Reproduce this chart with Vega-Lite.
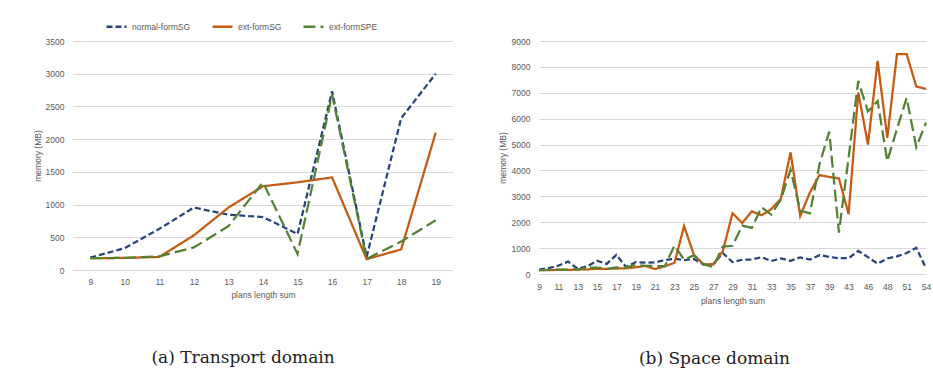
{
  "$schema": "https://vega.github.io/schema/vega-lite/v6.json",
  "background": "white",
  "padding": {"left": 33, "top": 15, "right": 5, "bottom": 5},
  "spacing": 45,
  "datasets": {
    "transport": [
      {"x": 9, "series": "normal-formSG", "v": 190},
      {"x": 10, "series": "normal-formSG", "v": 335},
      {"x": 11, "series": "normal-formSG", "v": 630},
      {"x": 12, "series": "normal-formSG", "v": 955},
      {"x": 13, "series": "normal-formSG", "v": 845},
      {"x": 14, "series": "normal-formSG", "v": 810},
      {"x": 15, "series": "normal-formSG", "v": 550},
      {"x": 16, "series": "normal-formSG", "v": 2730},
      {"x": 17, "series": "normal-formSG", "v": 200},
      {"x": 18, "series": "normal-formSG", "v": 2320},
      {"x": 19, "series": "normal-formSG", "v": 3000},
      {"x": 9, "series": "ext-formSG", "v": 180},
      {"x": 10, "series": "ext-formSG", "v": 185},
      {"x": 11, "series": "ext-formSG", "v": 200},
      {"x": 12, "series": "ext-formSG", "v": 530},
      {"x": 13, "series": "ext-formSG", "v": 955},
      {"x": 14, "series": "ext-formSG", "v": 1280},
      {"x": 15, "series": "ext-formSG", "v": 1340},
      {"x": 16, "series": "ext-formSG", "v": 1415},
      {"x": 17, "series": "ext-formSG", "v": 165},
      {"x": 18, "series": "ext-formSG", "v": 315},
      {"x": 19, "series": "ext-formSG", "v": 2100},
      {"x": 9, "series": "ext-formSPE", "v": 180},
      {"x": 10, "series": "ext-formSPE", "v": 185},
      {"x": 11, "series": "ext-formSPE", "v": 210},
      {"x": 12, "series": "ext-formSPE", "v": 345},
      {"x": 13, "series": "ext-formSPE", "v": 670},
      {"x": 14, "series": "ext-formSPE", "v": 1340},
      {"x": 15, "series": "ext-formSPE", "v": 245},
      {"x": 16, "series": "ext-formSPE", "v": 2680},
      {"x": 17, "series": "ext-formSPE", "v": 170},
      {"x": 18, "series": "ext-formSPE", "v": 435},
      {"x": 19, "series": "ext-formSPE", "v": 760}
    ],
    "space": [
      {"x": 9, "series": "normal-formSG", "v": 170},
      {"x": 10, "series": "normal-formSG", "v": 230},
      {"x": 11, "series": "normal-formSG", "v": 320},
      {"x": 12, "series": "normal-formSG", "v": 480},
      {"x": 13, "series": "normal-formSG", "v": 200},
      {"x": 14, "series": "normal-formSG", "v": 300},
      {"x": 15, "series": "normal-formSG", "v": 510},
      {"x": 16, "series": "normal-formSG", "v": 390},
      {"x": 17, "series": "normal-formSG", "v": 740},
      {"x": 18, "series": "normal-formSG", "v": 270},
      {"x": 19, "series": "normal-formSG", "v": 460},
      {"x": 20, "series": "normal-formSG", "v": 440},
      {"x": 21, "series": "normal-formSG", "v": 450},
      {"x": 22, "series": "normal-formSG", "v": 540},
      {"x": 23, "series": "normal-formSG", "v": 590},
      {"x": 24, "series": "normal-formSG", "v": 540},
      {"x": 25, "series": "normal-formSG", "v": 580},
      {"x": 26, "series": "normal-formSG", "v": 370},
      {"x": 27, "series": "normal-formSG", "v": 370},
      {"x": 28, "series": "normal-formSG", "v": 810},
      {"x": 29, "series": "normal-formSG", "v": 460},
      {"x": 30, "series": "normal-formSG", "v": 550},
      {"x": 31, "series": "normal-formSG", "v": 560},
      {"x": 32, "series": "normal-formSG", "v": 650},
      {"x": 33, "series": "normal-formSG", "v": 500},
      {"x": 34, "series": "normal-formSG", "v": 600},
      {"x": 35, "series": "normal-formSG", "v": 510},
      {"x": 36, "series": "normal-formSG", "v": 640},
      {"x": 37, "series": "normal-formSG", "v": 560},
      {"x": 38, "series": "normal-formSG", "v": 730},
      {"x": 39, "series": "normal-formSG", "v": 660},
      {"x": 41, "series": "normal-formSG", "v": 610},
      {"x": 43, "series": "normal-formSG", "v": 610},
      {"x": 44, "series": "normal-formSG", "v": 890},
      {"x": 46, "series": "normal-formSG", "v": 650},
      {"x": 47, "series": "normal-formSG", "v": 400},
      {"x": 48, "series": "normal-formSG", "v": 600},
      {"x": 50, "series": "normal-formSG", "v": 680},
      {"x": 51, "series": "normal-formSG", "v": 810},
      {"x": 52, "series": "normal-formSG", "v": 1010},
      {"x": 54, "series": "normal-formSG", "v": 220},
      {"x": 9, "series": "ext-formSG", "v": 150},
      {"x": 10, "series": "ext-formSG", "v": 150},
      {"x": 11, "series": "ext-formSG", "v": 160},
      {"x": 12, "series": "ext-formSG", "v": 160},
      {"x": 13, "series": "ext-formSG", "v": 170},
      {"x": 14, "series": "ext-formSG", "v": 180},
      {"x": 15, "series": "ext-formSG", "v": 200},
      {"x": 16, "series": "ext-formSG", "v": 200},
      {"x": 17, "series": "ext-formSG", "v": 210},
      {"x": 18, "series": "ext-formSG", "v": 220},
      {"x": 19, "series": "ext-formSG", "v": 260},
      {"x": 20, "series": "ext-formSG", "v": 310},
      {"x": 21, "series": "ext-formSG", "v": 190},
      {"x": 22, "series": "ext-formSG", "v": 300},
      {"x": 23, "series": "ext-formSG", "v": 430},
      {"x": 24, "series": "ext-formSG", "v": 1850},
      {"x": 25, "series": "ext-formSG", "v": 750},
      {"x": 26, "series": "ext-formSG", "v": 370},
      {"x": 27, "series": "ext-formSG", "v": 370},
      {"x": 28, "series": "ext-formSG", "v": 880},
      {"x": 29, "series": "ext-formSG", "v": 2350},
      {"x": 30, "series": "ext-formSG", "v": 1970},
      {"x": 31, "series": "ext-formSG", "v": 2420},
      {"x": 32, "series": "ext-formSG", "v": 2270},
      {"x": 33, "series": "ext-formSG", "v": 2500},
      {"x": 34, "series": "ext-formSG", "v": 2910},
      {"x": 35, "series": "ext-formSG", "v": 4700},
      {"x": 36, "series": "ext-formSG", "v": 2240},
      {"x": 37, "series": "ext-formSG", "v": 3150},
      {"x": 38, "series": "ext-formSG", "v": 3820},
      {"x": 39, "series": "ext-formSG", "v": 3750},
      {"x": 41, "series": "ext-formSG", "v": 3690},
      {"x": 43, "series": "ext-formSG", "v": 2310},
      {"x": 44, "series": "ext-formSG", "v": 7010},
      {"x": 46, "series": "ext-formSG", "v": 5000},
      {"x": 47, "series": "ext-formSG", "v": 8230},
      {"x": 48, "series": "ext-formSG", "v": 5260},
      {"x": 50, "series": "ext-formSG", "v": 8490},
      {"x": 51, "series": "ext-formSG", "v": 8490},
      {"x": 52, "series": "ext-formSG", "v": 7240},
      {"x": 54, "series": "ext-formSG", "v": 7150},
      {"x": 9, "series": "ext-formSPE", "v": 150},
      {"x": 10, "series": "ext-formSPE", "v": 160},
      {"x": 11, "series": "ext-formSPE", "v": 170},
      {"x": 12, "series": "ext-formSPE", "v": 170},
      {"x": 13, "series": "ext-formSPE", "v": 180},
      {"x": 14, "series": "ext-formSPE", "v": 240},
      {"x": 15, "series": "ext-formSPE", "v": 250},
      {"x": 16, "series": "ext-formSPE", "v": 200},
      {"x": 17, "series": "ext-formSPE", "v": 260},
      {"x": 18, "series": "ext-formSPE", "v": 260},
      {"x": 19, "series": "ext-formSPE", "v": 350},
      {"x": 20, "series": "ext-formSPE", "v": 310},
      {"x": 21, "series": "ext-formSPE", "v": 310},
      {"x": 22, "series": "ext-formSPE", "v": 300},
      {"x": 23, "series": "ext-formSPE", "v": 1100},
      {"x": 24, "series": "ext-formSPE", "v": 550},
      {"x": 25, "series": "ext-formSPE", "v": 720},
      {"x": 26, "series": "ext-formSPE", "v": 380},
      {"x": 27, "series": "ext-formSPE", "v": 270},
      {"x": 28, "series": "ext-formSPE", "v": 1060},
      {"x": 29, "series": "ext-formSPE", "v": 1090},
      {"x": 30, "series": "ext-formSPE", "v": 1870},
      {"x": 31, "series": "ext-formSPE", "v": 1780},
      {"x": 32, "series": "ext-formSPE", "v": 2580},
      {"x": 33, "series": "ext-formSPE", "v": 2290},
      {"x": 34, "series": "ext-formSPE", "v": 2880},
      {"x": 35, "series": "ext-formSPE", "v": 4030},
      {"x": 36, "series": "ext-formSPE", "v": 2450},
      {"x": 37, "series": "ext-formSPE", "v": 2340},
      {"x": 38, "series": "ext-formSPE", "v": 4250},
      {"x": 39, "series": "ext-formSPE", "v": 5500},
      {"x": 41, "series": "ext-formSPE", "v": 1600},
      {"x": 43, "series": "ext-formSPE", "v": 4500},
      {"x": 44, "series": "ext-formSPE", "v": 7460},
      {"x": 46, "series": "ext-formSPE", "v": 6280},
      {"x": 47, "series": "ext-formSPE", "v": 6680},
      {"x": 48, "series": "ext-formSPE", "v": 4360},
      {"x": 50, "series": "ext-formSPE", "v": 5600},
      {"x": 51, "series": "ext-formSPE", "v": 6800},
      {"x": 52, "series": "ext-formSPE", "v": 4900},
      {"x": 54, "series": "ext-formSPE", "v": 5850}
    ]
  },
  "hconcat": [
    {
      "data": {"name": "transport"},
      "width": 380,
      "height": 229,
      "title": {"text": "(a) Transport domain", "orient": "bottom", "anchor": "middle", "frame": "bounds", "offset": 51, "font": "DejaVu Serif", "fontSize": 17, "fontWeight": "normal", "color": "#222222"},
      "mark": {"type": "line", "strokeWidth": 2.25},
      "encoding": {
        "x": {"field": "x", "type": "ordinal", "scale": {"type": "point", "padding": 0.5},
          "axis": {"title": "plans length sum", "labelAngle": 0, "labelPadding": 7, "titlePadding": 5}},
        "y": {"field": "v", "type": "quantitative", "scale": {"domain": [0, 3500]},
          "axis": {"title": "memory (MB)", "format": "d", "values": [0, 500, 1000, 1500, 2000, 2500, 3000, 3500], "grid": true, "labelPadding": 9, "titlePadding": 3}},
        "color": {"field": "series", "type": "nominal",
          "scale": {"domain": ["normal-formSG", "ext-formSG", "ext-formSPE"], "range": ["#264478", "#C55A11", "#548235"]},
          "legend": {"orient": "none", "direction": "horizontal", "legendX": 32, "legendY": -26, "title": null}},
        "strokeDash": {"field": "series", "type": "nominal",
          "scale": {"domain": ["normal-formSG", "ext-formSG", "ext-formSPE"], "range": [[6, 3], [1, 0], [12, 5]]},
          "legend": {"orient": "none", "direction": "horizontal", "legendX": 32, "legendY": -26, "title": null}}
      }
    },
    {
      "data": {"name": "space"},
      "width": 387,
      "height": 233,
      "title": {"text": "(b) Space domain", "orient": "bottom", "anchor": "middle", "frame": "bounds", "offset": 46, "font": "DejaVu Serif", "fontSize": 17, "fontWeight": "normal", "color": "#222222"},
      "mark": {"type": "line", "strokeWidth": 2.25},
      "encoding": {
        "x": {"field": "x", "type": "ordinal", "scale": {"type": "point", "padding": 0},
          "axis": {"title": "plans length sum", "labelAngle": 0, "labelPadding": 8, "titlePadding": 6,
            "values": [9, 11, 13, 15, 17, 19, 21, 23, 25, 27, 29, 31, 33, 35, 37, 39, 43, 46, 48, 51, 54]}},
        "y": {"field": "v", "type": "quantitative", "scale": {"domain": [0, 9000]},
          "axis": {"title": "memory (MB)", "format": "d", "values": [0, 1000, 2000, 3000, 4000, 5000, 6000, 7000, 8000, 9000], "grid": true, "labelPadding": 9, "titlePadding": 4}},
        "color": {"field": "series", "type": "nominal",
          "scale": {"domain": ["normal-formSG", "ext-formSG", "ext-formSPE"], "range": ["#264478", "#C55A11", "#548235"]},
          "legend": {"orient": "none", "direction": "horizontal", "legendX": 42, "legendY": -26, "title": null}},
        "strokeDash": {"field": "series", "type": "nominal",
          "scale": {"domain": ["normal-formSG", "ext-formSG", "ext-formSPE"], "range": [[6, 3], [1, 0], [12, 5]]},
          "legend": {"orient": "none", "direction": "horizontal", "legendX": 42, "legendY": -26, "title": null}}
      }
    }
  ],
  "resolve": {"scale": {"x": "independent", "y": "independent"}},
  "config": {
    "font": "Liberation Sans",
    "view": {"stroke": null},
    "axis": {
      "domain": false,
      "ticks": false,
      "tickSize": 0,
      "labelFont": "Liberation Sans",
      "labelFontSize": 8.5,
      "labelColor": "#595959",
      "titleFont": "Liberation Sans",
      "titleFontSize": 8.5,
      "titleFontWeight": "normal",
      "titleColor": "#595959",
      "gridColor": "#d9d9d9",
      "gridWidth": 1
    },
    "axisX": {"grid": false},
    "legend": {
      "labelFont": "Liberation Sans",
      "labelFontSize": 8.5,
      "labelColor": "#595959",
      "symbolSize": 400,
      "symbolStrokeWidth": 2.5,
      "symbolType": "stroke",
      "labelOffset": 4,
      "columnPadding": 16
    }
  }
}
